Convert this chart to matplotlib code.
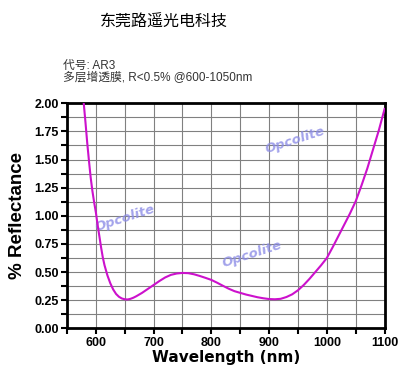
import matplotlib.pyplot as plt
from matplotlib.ticker import MultipleLocator

plt.rcParams["font.family"] = ["Liberation Sans", "Noto Sans CJK SC", "DejaVu Sans"]

# data
wavelength = [579, 582, 585, 588, 591, 594, 597, 600, 603, 606, 609, 612, 615,
              620, 625, 630, 635, 640, 645, 650, 655, 660, 665, 670, 680, 690,
              700, 710, 720, 730, 740, 750, 760, 770, 780, 790, 800, 810, 820,
              830, 840, 850, 860, 870, 880, 890, 900, 910, 920, 930, 940, 950,
              960, 970, 980, 990, 1000, 1010, 1020, 1030, 1040, 1050, 1060,
              1070, 1080, 1090, 1100]
reflectance = [2.00, 1.83, 1.65, 1.49, 1.34, 1.22, 1.12, 1.03, 0.92, 0.82,
               0.72, 0.63, 0.56, 0.47, 0.40, 0.345, 0.305, 0.28, 0.265, 0.258,
               0.256, 0.262, 0.272, 0.285, 0.315, 0.35, 0.385, 0.42, 0.452,
               0.475, 0.487, 0.492, 0.49, 0.48, 0.465, 0.448, 0.43, 0.405,
               0.378, 0.352, 0.33, 0.315, 0.3, 0.288, 0.276, 0.267, 0.26,
               0.258, 0.262, 0.278, 0.302, 0.338, 0.385, 0.44, 0.5, 0.56,
               0.625, 0.72, 0.82, 0.92, 1.02, 1.13, 1.27, 1.42, 1.59, 1.76, 1.95]

title_text = "东莞路遥光电科技"
code_text = "代号: AR3"
desc_text = "多层增透膜, R<0.5% @600-1050nm"
watermark_pos = [(650, 0.98), (945, 1.67), (870, 0.66)]

fig = plt.figure(figsize=(4.0, 3.69), dpi=100)
ax = fig.add_axes([0.1675, 0.1103, 0.794, 0.6098])

ax.plot(wavelength, reflectance, color="#cc11cc", linewidth=1.5, zorder=3)

for wx, wy in watermark_pos:
    ax.text(wx, wy, "Opcolite", color="#8c8ce6", fontsize=9.5, fontweight="bold",
            fontstyle="italic", rotation=18, ha="center", va="center",
            family="DejaVu Sans", alpha=0.8, zorder=2)

ax.set_xlim(550, 1100)
ax.set_ylim(0, 2.0)
ax.xaxis.set_major_locator(MultipleLocator(100))
ax.xaxis.set_minor_locator(MultipleLocator(50))
ax.yaxis.set_major_locator(MultipleLocator(0.25))
ax.yaxis.set_minor_locator(MultipleLocator(0.125))
ax.yaxis.set_major_formatter(lambda v, p: f"{v:.2f}")

ax.grid(True, which="both", color="#808080", linewidth=0.8, zorder=1)
ax.tick_params(which="both", direction="out", length=4, width=1.5, color="black")
ax.tick_params(which="major", labelsize=9, pad=2)
for lbl in ax.get_xticklabels() + ax.get_yticklabels():
    lbl.set_fontweight("bold")
for sp in ax.spines.values():
    sp.set_linewidth(2)
    sp.set_color("black")

ax.set_xlabel("Wavelength (nm)", fontsize=11, fontweight="bold",
              family="DejaVu Sans", labelpad=1)
ax.set_ylabel("% Reflectance", fontsize=13.5, fontweight="bold", labelpad=6)

fig.text(0.41, 0.94, title_text, fontsize=11.5, ha="center", va="center",
         color="black")
fig.text(0.158, 0.82, code_text, fontsize=8.5, ha="left", va="center",
         color="#333333")
fig.text(0.158, 0.788, desc_text, fontsize=8.5, ha="left", va="center",
         color="#333333")

fig.savefig("out.png", dpi=100)
